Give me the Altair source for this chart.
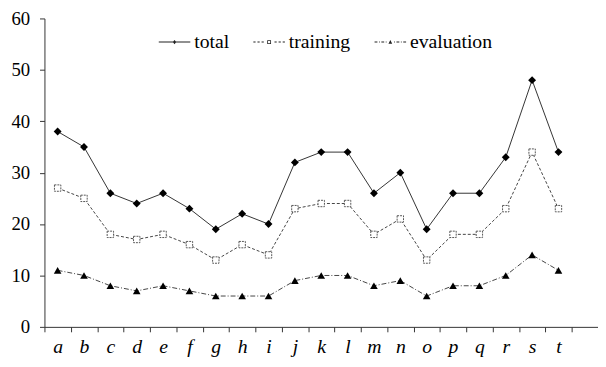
import altair as alt
import pandas as pd

categories = list("abcdefghijklmnopqrst")
total = [38, 35, 26, 24, 26, 23, 19, 22, 20, 32, 34, 34, 26, 30, 19, 26, 26, 33, 48, 34]
training = [27, 25, 18, 17, 18, 16, 13, 16, 14, 23, 24, 24, 18, 21, 13, 18, 18, 23, 34, 23]
evaluation = [11, 10, 8, 7, 8, 7, 6, 6, 6, 9, 10, 10, 8, 9, 6, 8, 8, 10, 14, 11]
series_names = ["total", "training", "evaluation"]
y_ticks = [0, 10, 20, 30, 40, 50, 60]

rows = []
for name, vals in zip(series_names, [total, training, evaluation]):
    for i, (c, v) in enumerate(zip(categories, vals)):
        rows.append({"cat": c, "pos": i + 0.5, "value": v, "series": name})
df = pd.DataFrame(rows)

FONT = "Liberation Serif"
FS = 19
step = 26.75
W = step * 21
H = 313

label_expr = "datum.value < 20 ? " + str(categories) + "[datum.value] : ''"

x = alt.X(
    "pos:Q",
    scale=alt.Scale(domain=[0, 21], nice=False, zero=False),
    axis=alt.Axis(
        values=list(range(21)), labelExpr=label_expr, labelOffset=step / 2,
        labelFlush=False, labelOverlap=False, grid=False, title=None,
        tickSize=5, labelFontStyle="italic", labelFontSize=FS + 1, labelPadding=5,
        domainColor="#333", tickColor="#333", labelColor="black",
    ),
)
y = alt.Y(
    "value:Q",
    scale=alt.Scale(domain=[0, 60], nice=False),
    axis=alt.Axis(
        values=y_ticks, grid=False, title=None, tickSize=5, labelPadding=10,
        labelFontSize=FS, domainColor="#333", tickColor="#333",
        labelColor="black",
    ),
)

base = alt.Chart(df).encode(x=x, y=y)


def sub(name):
    return base.transform_filter(alt.datum.series == name)


line_total = sub("total").mark_line(color="#333", strokeWidth=1)
line_train = sub("training").mark_line(color="#444", strokeWidth=1, strokeDash=[3, 2])
line_eval = sub("evaluation").mark_line(color="#444", strokeWidth=1, strokeDash=[5, 2, 1, 2])

pts_total = sub("total").mark_point(
    shape="diamond", size=64, filled=True, fill="black", opacity=1
)
pts_train = sub("training").mark_point(
    shape="square", size=42, filled=True, fill="white", stroke="#555",
    strokeWidth=1, strokeDash=[2, 1], opacity=1
)
pts_eval = sub("evaluation").mark_point(
    shape="triangle-up", size=60, filled=True, fill="black", opacity=1
)


def seg(a, b, t=0.032):
    return f"M{a},{-t}H{b}V{t}H{a}Z"


legend_paths = [
    seg(-1, 1) + "M0,-0.13L0.11,0L0,0.13L-0.11,0Z",
    "".join(seg(a, b) for a, b in [(-1, -0.86), (-0.74, -0.6), (-0.48, -0.34),
                                    (0.34, 0.48), (0.6, 0.74), (0.86, 1)])
    + "M-0.12,-0.12H0.12V0.12H-0.12Z M-0.07,-0.07V0.07H0.07V-0.07Z",
    "".join(seg(a, b) for a, b in [(-1, -0.82), (-0.72, -0.67), (-0.57, -0.39),
                                    (-0.29, -0.24), (0.24, 0.29), (0.39, 0.57),
                                    (0.67, 0.72), (0.82, 1)])
    + "M0,-0.13L0.12,0.1L-0.12,0.1Z",
]

leg = base.mark_point(
    size=1024, opacity=0, filled=True, fill="#222", strokeWidth=0
).encode(
    shape=alt.Shape(
        "series:N",
        scale=alt.Scale(domain=series_names, range=legend_paths),
        legend=alt.Legend(
            title=None, orient="none", legendX=116, legendY=8,
            direction="horizontal", symbolOpacity=1, symbolSize=1024,
            symbolFillColor="#222", symbolStrokeWidth=0,
            labelFontSize=FS + 1,
            labelColor="black", columnPadding=24, labelOffset=4, padding=0,
        ),
    )
)

chart = alt.layer(
    line_total, line_train, line_eval, pts_train, pts_eval, pts_total, leg
).properties(
    width=W, height=H,
    padding={"left": 37, "top": 8, "right": 0, "bottom": 30},
    autosize="none",
    background="white",
).configure(
    font=FONT
).configure_axis(
    labelFont=FONT
).configure_legend(
    labelFont=FONT
).configure_view(stroke=None)

chart.save("out.html", embed_options={"renderer": "svg", "actions": False})
